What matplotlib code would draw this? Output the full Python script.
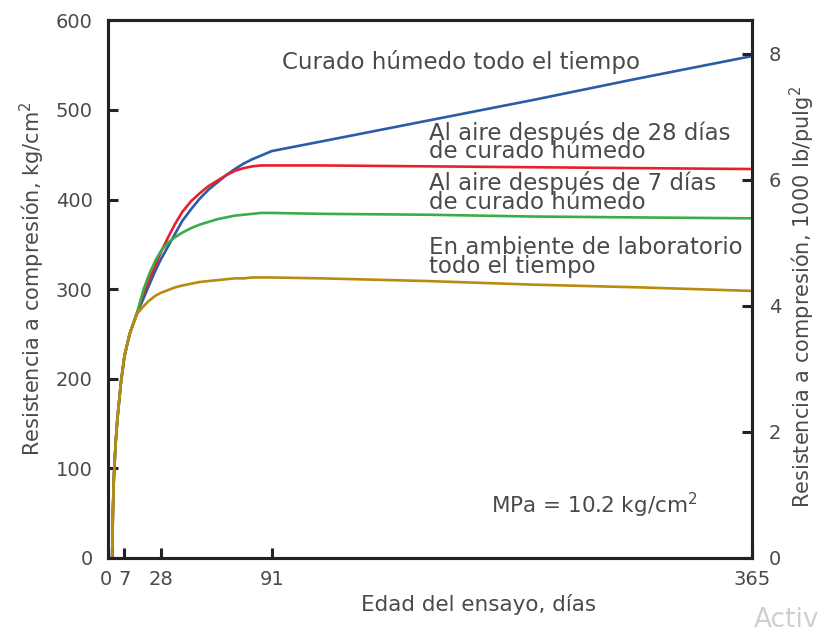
import numpy as np
import matplotlib
matplotlib.use("Agg")
import matplotlib.pyplot as plt

plt.rcParams['font.family'] = ['DejaVu Sans']

# edad del ensayo (días) y resistencia (kg/cm2)
dias = [0, 0.5, 1, 2, 3, 5, 7, 10, 14, 18, 21, 25, 28, 32, 36, 40, 45, 50,
        55, 60, 65, 70, 75, 80, 85, 91, 120, 180, 240, 300, 365]

humedo = [0, 55, 90, 128, 155, 195, 225, 250, 272, 290, 304, 322, 334, 348,
          362, 376, 389, 401, 411, 419, 427, 434, 440, 445, 449, 454, 465,
          488, 511, 535, 560]
aire_28 = [0, 55, 90, 128, 155, 195, 225, 250, 272, 296, 310, 328, 342, 358,
           373, 386, 398, 407, 415, 421, 427, 432, 435, 437, 438, 438, 438,
           437, 436, 435, 434]
aire_7 = [0, 55, 90, 128, 155, 195, 225, 250, 272, 300, 316, 333, 343, 352,
          358, 363, 368, 372, 375, 378, 380, 382, 383, 384, 385, 385, 384,
          383, 381, 380, 379]
laboratorio = [0, 55, 90, 128, 155, 195, 225, 250, 272, 281, 287, 293, 296,
               299, 302, 304, 306, 308, 309, 310, 311, 312, 312, 313, 313, 313,
               312, 309, 305, 302, 298]

xticks = [0, 7, 28, 91, 365]
yticks = [0, 100, 200, 300, 400, 500, 600]
psi_ticks = [0, 2, 4, 6, 8]
kg_per_kpsi = 70.307

gris = '#4a4a4a'

fig = plt.figure(figsize=(8.25, 6.33), dpi=100)
ax = fig.add_axes([0.131, 0.1185, 0.7805, 0.8495])

ax.plot(dias, humedo, color='#2a5ca8', lw=1.9)
ax.plot(dias, aire_28, color='#e8202c', lw=1.9)
ax.plot(dias, aire_7, color='#3aac48', lw=1.9)
ax.plot(dias, laboratorio, color='#b88a10', lw=1.9)

ax.set_xlim(-2.3, 365)
ax.set_ylim(0, 600)
ax.set_xticks(xticks)
ax.set_yticks(yticks)
ax.tick_params(direction='in', length=7, width=2.2, colors='#222222',
               labelcolor=gris, labelsize=14)
ax.tick_params(axis='y', pad=11)
ax.tick_params(axis='x', pad=9)
ax.get_xticklabels()[0].set_horizontalalignment('right')
for s in ax.spines.values():
    s.set_linewidth(2.2)
    s.set_color('#222222')

ax.set_xlabel('Edad del ensayo, días', fontsize=15.5, color=gris, labelpad=3)
ax.xaxis.label.set_x(0.575)
ax.set_ylabel('Resistencia a compresión, kg/cm$^2$', fontsize=15, color=gris,
              labelpad=6)
ax.yaxis.label.set_y(0.52)

ax2 = ax.twinx()
ax2.set_ylim(0, 600 / kg_per_kpsi)
ax2.set_yticks(psi_ticks)
ax2.tick_params(direction='in', length=7, width=2.2, colors='#222222',
                labelcolor=gris, labelsize=14, pad=12)
for s in ax2.spines.values():
    s.set_linewidth(2.2)
    s.set_color('#222222')
ax2.set_ylabel('Resistencia a compresión, 1000 lb/pulg$^2$', fontsize=15,
               color=gris, labelpad=5)
ax2.yaxis.label.set_y(0.485)

# etiquetas de cada curva
txt = dict(fontsize=16.5, color=gris, va='center', ha='left')
ax.text(97, 553, 'Curado húmedo todo el tiempo', **txt)
ax.text(181, 464, 'Al aire después de 28 días\nde curado húmedo',
        linespacing=0.75, **txt)
ax.text(181, 408, 'Al aire después de 7 días\nde curado húmedo',
        linespacing=0.75, **txt)
ax.text(181, 336, 'En ambiente de laboratorio\ntodo el tiempo',
        linespacing=0.75, **txt)
ax.text(216, 59, 'MPa = 10.2 kg/cm$^2$', fontsize=15.5, color=gris,
        va='center', ha='left')

fig.text(0.914, 0.0, 'Activ', fontsize=19, color='#cfcfcf', ha='left',
         va='bottom')

fig.savefig('out.png', dpi=100)
